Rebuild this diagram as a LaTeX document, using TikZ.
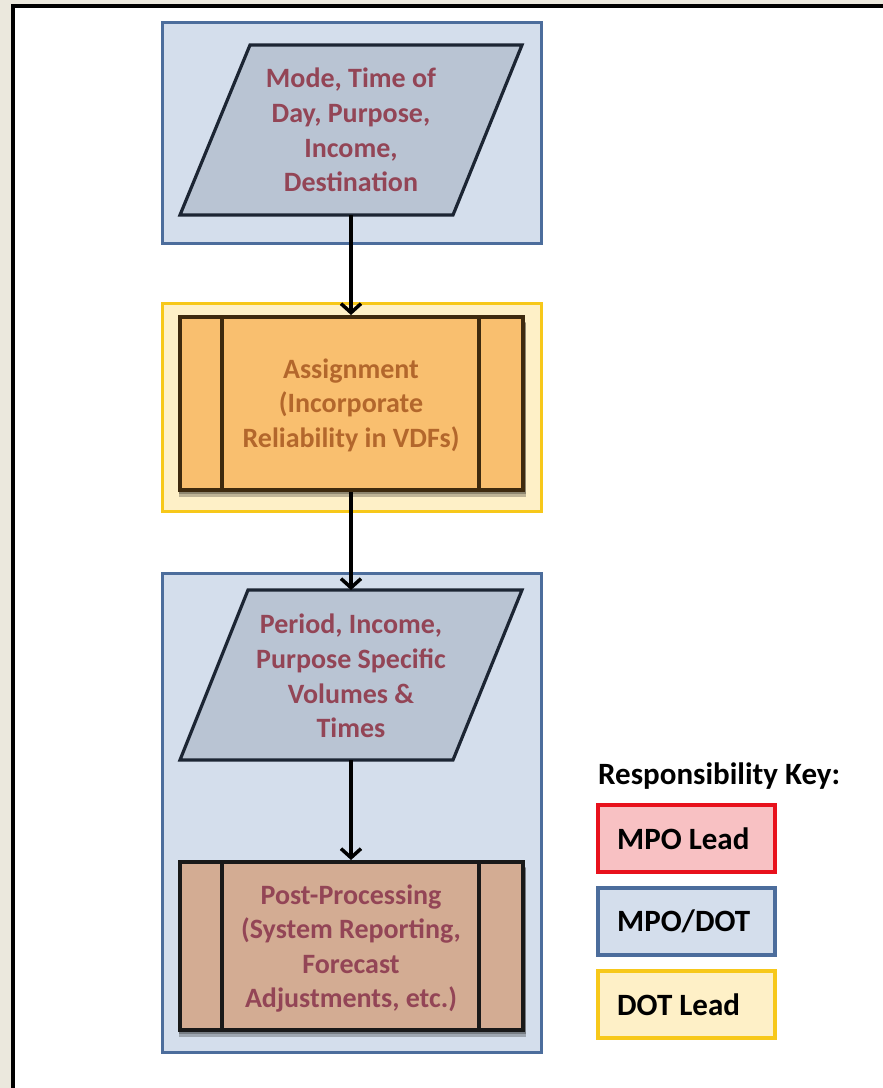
\documentclass[tikz,border=0pt]{standalone}
\usepackage{fontspec}
\setmainfont{Carlito}
\usetikzlibrary{arrows.meta,calc}
\definecolor{beige}{HTML}{EBE8DD}
\definecolor{bluefill}{HTML}{D4DEEC}
\definecolor{blueline}{HTML}{4C6D9C}
\definecolor{grayfill}{HTML}{B9C4D3}
\definecolor{darkline}{HTML}{1C2533}
\definecolor{maroon}{HTML}{934556}
\definecolor{yelfill}{HTML}{FEF0C7}
\definecolor{yelline}{HTML}{F7C81A}
\definecolor{orfill}{HTML}{F9BF6F}
\definecolor{orline}{HTML}{3E2A0E}
\definecolor{ortext}{HTML}{B3672C}
\definecolor{tanfill}{HTML}{D3AC93}
\definecolor{redfill}{HTML}{F8C1C3}
\definecolor{redline}{HTML}{E8111C}
\tikzset{
  group/.style={draw=blueline, fill=bluefill, line width=3pt, minimum width=379pt, inner sep=0pt},
  dotgroup/.style={draw=yelline, fill=yelfill, line width=3pt, minimum width=379pt, inner sep=0pt},
  para/.style={draw=darkline, fill=grayfill, line width=3.2pt, line join=miter},
  ptext/.style={text=maroon, font=\fontsize{28}{34.6}\selectfont\bfseries, align=center},
  procbox/.style={line width=4pt, minimum width=343pt, inner sep=0pt},
  keybox/.style={line width=3.5pt, minimum width=177pt, minimum height=67pt, inner sep=0pt, anchor=north west},
  keylabel/.style={anchor=west, inner sep=0pt, text=black, font=\fontsize{31}{34}\selectfont\bfseries},
  flow/.style={line width=3.5pt, draw=black, -{Straight Barb[length=9pt,width=20pt,line width=3.5pt]}},
  shadowbox/.style={fill=black, opacity=0.25, minimum width=347pt, inner sep=0pt}
}
\begin{document}
\begin{tikzpicture}[x=1pt,y=-1pt]
\useasboundingbox (0,0) rectangle (883,1088);
\fill[beige] (0,0) rectangle (883,1088);
\draw[line width=4pt, fill=white] (13,6) rectangle (905,1110);

% group boxes
\node[group, minimum height=221pt] (g1) at (351.5,132.5) {};
\node[dotgroup, minimum height=208pt] (g2) at (351.5,407) {};
\node[group, minimum height=479pt] (g3) at (351.5,812.5) {};

% parallelogram 1
\coordinate (p1tl) at (250,45);
\coordinate (p1tr) at (522,45);
\coordinate (p1br) at (453,215);
\coordinate (p1bl) at (180,215);
\draw[para] (p1tl) -- (p1tr) -- (p1br) -- (p1bl) -- cycle;
\node[ptext] (p1) at (351,130) {Mode, Time of\\Day, Purpose,\\Income,\\Destination};
\coordinate (p1out) at (351,215);

% assignment box
\node[shadowbox, minimum height=175pt] at (352,409) {};
\node[shadowbox, minimum height=171pt] at (352,408) {};
\node[procbox, draw=orline, fill=orfill, minimum height=173pt] (asg) at (351,403.5) {};
\draw[line width=4pt, orline] (222,317) -- (222,490);
\draw[line width=4pt, orline] (479,317) -- (479,490);
\node[ptext, text=ortext] (asgt) at (351,405) {Assignment\\(Incorporate\\Reliability in VDFs)};

% parallelogram 2
\coordinate (p2tl) at (248,590);
\coordinate (p2tr) at (522,590);
\coordinate (p2br) at (453,760);
\coordinate (p2bl) at (180,760);
\draw[para] (p2tl) -- (p2tr) -- (p2br) -- (p2bl) -- cycle;
\node[ptext] (p2) at (351,676) {Period, Income,\\Purpose Specific\\Volumes \&\\Times};
\coordinate (p2in) at (351,590);
\coordinate (p2out) at (351,760);

% post-processing box
\node[shadowbox, minimum height=170pt] at (352,952) {};
\node[shadowbox, minimum height=166pt] at (352,951) {};
\node[procbox, draw=black!90, fill=tanfill, minimum height=168pt] (post) at (351,946) {};
\draw[line width=4pt, black!90] (222,862) -- (222,1030);
\draw[line width=4pt, black!90] (479,862) -- (479,1030);
\node[ptext] (postt) at (351,948.5) {Post-Processing\\(System Reporting,\\Forecast\\Adjustments, etc.)};

% connectors
\draw[flow] (p1out) -- (asg.north);
\draw[flow] (asg.south) -- (p2in);
\draw[flow] (p2out) -- (post.north);

% key
\node[keylabel] (keyt) at (598,776) {Responsibility Key:};
\node[keybox, draw=redline, fill=redfill] (k1) at (596,803) {};
\node[keylabel] (k1t) at ($(k1.west)+(21,0)$) {MPO Lead};
\node[keybox, draw=blueline, fill=bluefill] (k2) at (596,886) {};
\node[keylabel] (k2t) at ($(k2.west)+(21,0)$) {MPO/DOT};
\node[keybox, draw=yelline, fill=yelfill] (k3) at (596,969) {};
\node[keylabel] (k3t) at ($(k3.west)+(21,0)$) {DOT Lead};
\end{tikzpicture}
\end{document}
